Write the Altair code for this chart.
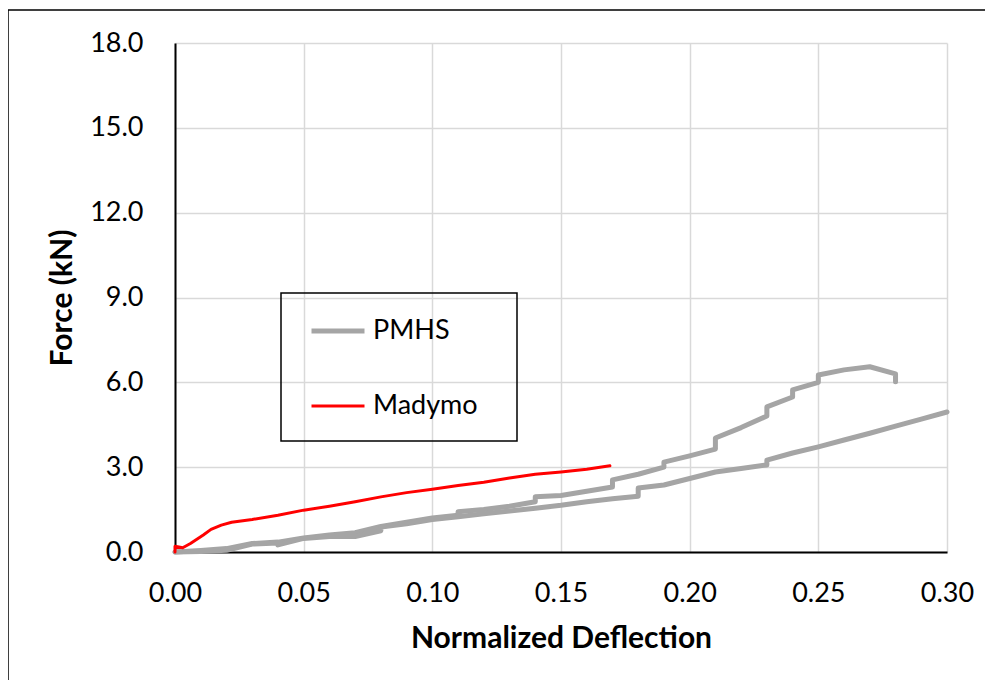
import altair as alt
import pandas as pd

# PMHS trial A (ends with hook at 0.28)
pmhs_a_x = [0.0, 0.01, 0.02, 0.03, 0.04, 0.05, 0.06, 0.07, 0.08, 0.09, 0.10, 0.11, 0.11, 0.12, 0.13,
            0.14, 0.14, 0.15, 0.16, 0.17, 0.17, 0.18, 0.19, 0.19, 0.20, 0.21, 0.21, 0.22, 0.23, 0.23,
            0.24, 0.24, 0.25, 0.25, 0.26, 0.27, 0.28, 0.28]
pmhs_a_y = [0.0, 0.05, 0.12, 0.3, 0.35, 0.5, 0.6, 0.68, 0.9, 1.05, 1.2, 1.3, 1.42, 1.5, 1.62,
            1.78, 1.95, 2.0, 2.15, 2.3, 2.55, 2.75, 3.0, 3.18, 3.4, 3.64, 4.03, 4.4, 4.81, 5.13,
            5.48, 5.73, 6.0, 6.26, 6.44, 6.55, 6.3, 6.02]

# PMHS trial B (goes to 0.30)
pmhs_b_x = [0.0, 0.01, 0.02, 0.03, 0.04, 0.04, 0.05, 0.06, 0.07, 0.08, 0.08, 0.09, 0.10, 0.11,
            0.12, 0.13, 0.14, 0.15, 0.16, 0.17, 0.18, 0.18, 0.19, 0.20, 0.21, 0.22, 0.23, 0.23,
            0.24, 0.25, 0.26, 0.27, 0.28, 0.29, 0.30]
pmhs_b_y = [0.0, 0.02, 0.06, 0.28, 0.32, 0.25, 0.48, 0.55, 0.55, 0.75, 0.88, 1.0, 1.15, 1.25,
            1.35, 1.45, 1.55, 1.65, 1.78, 1.88, 1.97, 2.26, 2.37, 2.6, 2.83, 2.95, 3.08, 3.25,
            3.5, 3.72, 3.96, 4.2, 4.45, 4.7, 4.95]

# Madymo simulation
madymo_x = [0.0, 0.0, 0.003, 0.006, 0.011, 0.014, 0.018, 0.022, 0.03, 0.04, 0.05, 0.06, 0.07,
            0.08, 0.09, 0.10, 0.11, 0.12, 0.13, 0.14, 0.15, 0.16, 0.169]
madymo_y = [0.0, 0.2, 0.15, 0.3, 0.6, 0.8, 0.95, 1.05, 1.15, 1.3, 1.48, 1.62, 1.78,
            1.95, 2.1, 2.22, 2.35, 2.47, 2.62, 2.75, 2.83, 2.93, 3.05]

series_names = ["PMHS", "Madymo"]
x_ticks = [0.0, 0.05, 0.10, 0.15, 0.20, 0.25, 0.30]
y_ticks = [0, 3, 6, 9, 12, 15, 18]

rows = []
for trial, xs, ys, s in [("A", pmhs_a_x, pmhs_a_y, "PMHS"),
                         ("B", pmhs_b_x, pmhs_b_y, "PMHS"),
                         ("M", madymo_x, madymo_y, "Madymo")]:
    for i, (xv, yv) in enumerate(zip(xs, ys)):
        rows.append({"x": xv, "y": yv, "series": s, "trial": trial, "idx": i})
df = pd.DataFrame(rows)

FONT = "Lato"
one = pd.DataFrame({"k": [0]})

frame = alt.Chart(one).mark_rect(
    fill=None, stroke="black", strokeWidth=1.5
).encode(
    x=alt.value(-167), x2=alt.value(830), y=alt.value(-33), y2=alt.value(700)
)

legend_box = alt.Chart(one).mark_rect(
    fill=None, stroke="black", strokeWidth=1.5
).encode(
    x=alt.value(106), x2=alt.value(342), y=alt.value(250), y2=alt.value(398)
)

lines = alt.Chart(df).mark_line(strokeCap="round", strokeJoin="round").encode(
    x=alt.X("x:Q", scale=alt.Scale(domain=[0, 0.3], nice=False),
            axis=alt.Axis(values=x_ticks, format=".2f", title="Normalized Deflection",
                          labelFlush=False)),
    y=alt.Y("y:Q", scale=alt.Scale(domain=[0, 18], nice=False),
            axis=alt.Axis(values=y_ticks, format=".1f", title="Force (kN)")),
    color=alt.Color("series:N", scale=alt.Scale(domain=series_names, range=["#a5a5a5", "#ff0000"]),
                    legend=alt.Legend(title=None, orient="none", legendX=134, legendY=259,
                                      symbolType="stroke", symbolSize=2809,
                                      labelFontSize=27, labelFont=FONT, labelColor="black",
                                      padding=0, rowPadding=34, labelOffset=6)),
    strokeWidth=alt.StrokeWidth("series:N", scale=alt.Scale(domain=series_names, range=[5, 3]),
                                legend=alt.Legend(title=None)),
    detail="trial:N",
    order="idx:Q",
)

chart = alt.layer(frame, legend_box, lines).properties(
    width=772, height=509,
    autosize=alt.AutoSizeParams(type="none"),
    padding={"left": 167, "top": 35, "right": 38, "bottom": 128},
).configure_view(stroke=None).configure_axis(
    grid=True, gridColor="#d9d9d9", gridWidth=1.5, ticks=False,
    labelFont=FONT, labelFontSize=27, labelColor="black",
    titleFont=FONT, titleFontSize=30, titleFontWeight="bold", titleColor="black",
    domainColor="black", domainWidth=2,
).configure_axisX(labelPadding=28, titlePadding=17).configure_axisY(labelPadding=32, titlePadding=12)

chart.save("out.html", embed_options={"renderer": "svg", "actions": False})
